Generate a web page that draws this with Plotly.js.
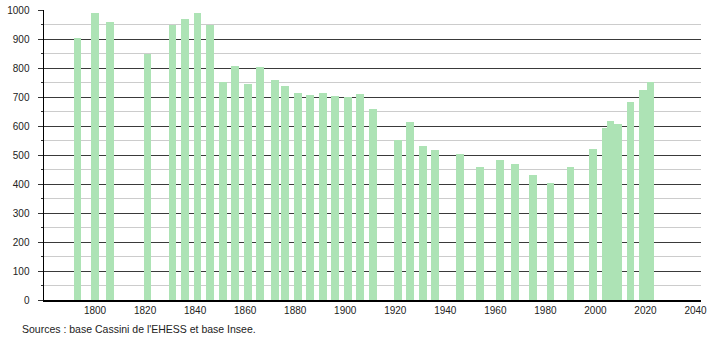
<!DOCTYPE html>
<html>
<head>
<meta charset="utf-8">
<script src="https://cdn.plot.ly/plotly-3.0.1.min.js"></script>
<style>html,body{margin:0;padding:0;background:#fff;}#chart{width:710px;height:340px;}</style>
</head>
<body>
<div id="chart"></div>
<script>
const years = [1793, 1800, 1806, 1821, 1831, 1836, 1841, 1846, 1851, 1856, 1861, 1866, 1872, 1876, 1881, 1886, 1891, 1896, 1901, 1906, 1911, 1921, 1926, 1931, 1936, 1946, 1954, 1962, 1968, 1975, 1982, 1990, 1999, 2004, 2006, 2009, 2014, 2019, 2022];
const population = [904, 991, 960, 849, 949, 970, 991, 950, 752, 808, 746, 803, 759, 739, 713, 708, 713, 704, 701, 710, 659, 552, 613, 532, 518, 504, 458, 482, 469, 431, 403, 459, 520, 594, 616, 607, 682, 724, 751];
const xTicks = [1800, 1820, 1840, 1860, 1880, 1900, 1920, 1940, 1960, 1980, 2000, 2020, 2040];
const yTicks = [0, 100, 200, 300, 400, 500, 600, 700, 800, 900, 1000];
const sourceText = "Sources : base Cassini de l'EHESS et base Insee.";

const trace = {
  type: 'bar',
  x: years,
  y: population,
  width: 3.1,
  marker: {color: '#ade3b5', line: {width: 0}},
  hoverinfo: 'x+y'
};

const layout = {
  width: 710, height: 340,
  margin: {l: 44, r: 9, t: 10, b: 40},
  paper_bgcolor: '#fff', plot_bgcolor: '#fff',
  showlegend: false,
  font: {family: 'Liberation Sans, Arial, sans-serif', size: 10, color: '#222'},
  xaxis: {
    range: [1779.6, 2042.2],
    tickvals: xTicks,
    ticktext: xTicks.map(String),
    showgrid: false, zeroline: false,
    showline: true, linecolor: '#000', linewidth: 1.5,
    ticks: '', ticklabelstandoff: 0,
    tickfont: {size: 10, color: '#222'}
  },
  yaxis: {
    range: [0, 1000],
    tickvals: yTicks,
    ticktext: yTicks.map(String),
    showgrid: true, gridcolor: '#3a3a3a', gridwidth: 1,
    zeroline: false,
    showline: true, linecolor: '#000', linewidth: 1.5,
    ticks: 'outside', ticklen: 5, tickcolor: '#333', tickwidth: 1,
    ticklabelstandoff: 6,
    tickfont: {size: 10, color: '#222'},
    minor: {dtick: 50, tick0: 0, showgrid: true, gridcolor: '#cccccc', gridwidth: 1, ticks: 'outside', ticklen: 2, tickcolor: '#333'}
  },
  annotations: [{
    text: sourceText,
    xref: 'paper', yref: 'paper',
    x: -0.036, y: -0.1,
    xanchor: 'left', yanchor: 'middle',
    showarrow: false,
    font: {size: 10.5, color: '#222'}
  }],
  bargap: 0
};

Plotly.newPlot('chart', [trace], layout, {displayModeBar: false, staticPlot: true});
</script>
</body>
</html>
